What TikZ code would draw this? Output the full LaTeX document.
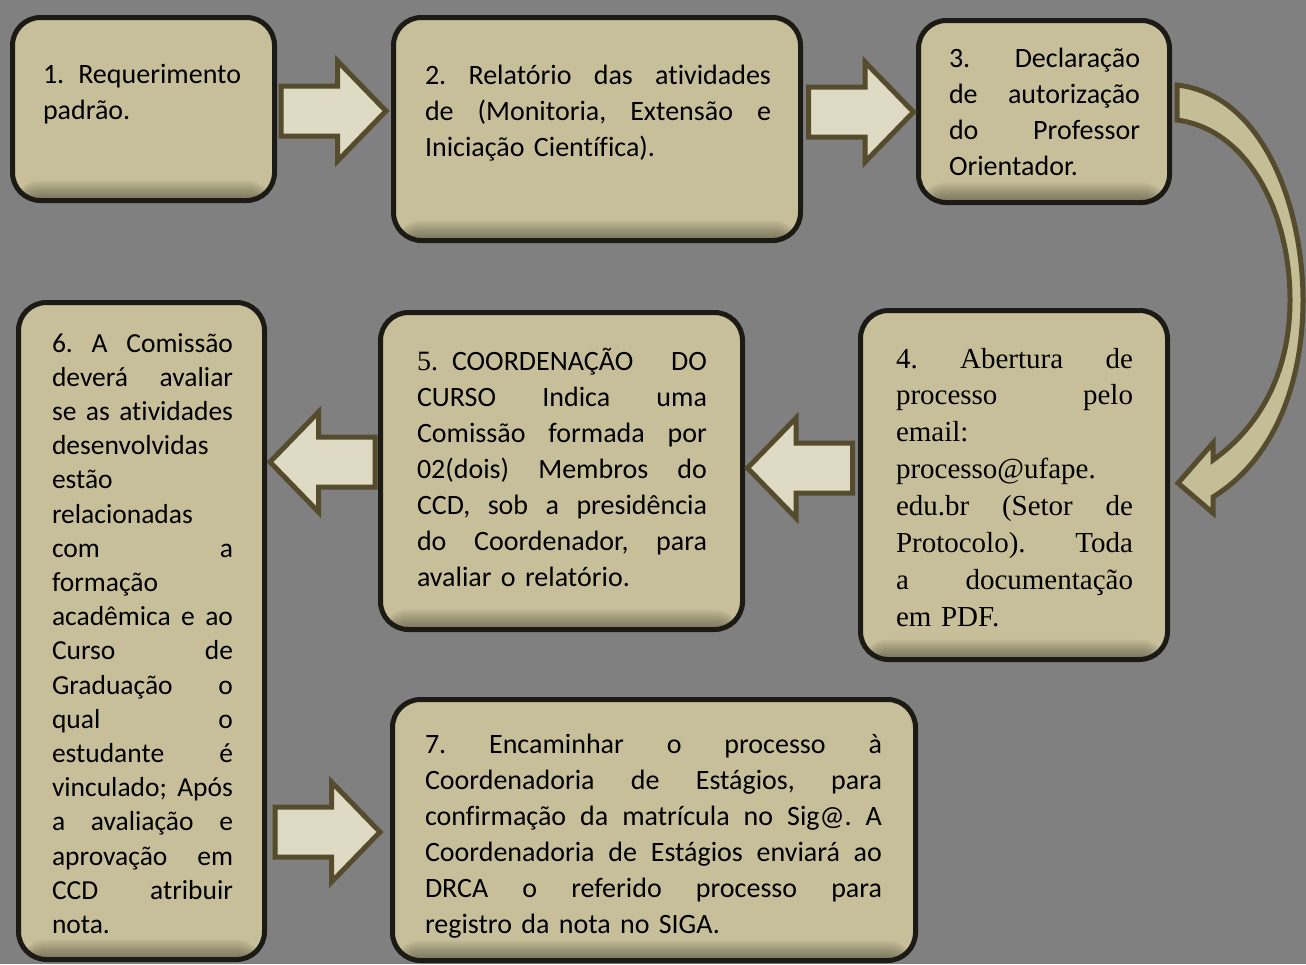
\documentclass[tikz,border=0pt]{standalone}
\usepackage{fontspec}
\setmainfont{Carlito}[Ligatures=NoCommon]
\newfontfamily\tms{Liberation Serif}
\definecolor{bg}{RGB}{128,128,128}
\definecolor{boxfill}{RGB}{199,191,153}
\definecolor{boxline}{RGB}{28,26,20}
\definecolor{arrfill}{RGB}{222,218,196}
\definecolor{arrline}{RGB}{85,75,45}
\definecolor{carrfill}{RGB}{196,190,150}
\newcommand\gp{\hspace{0.16em plus 1fill}}
\tikzset{
  stepbox/.style={draw=boxline, fill=boxfill, line width=5pt, rounded corners=28pt, inner sep=0pt,
    path picture={
      \foreach \k in {1,...,10}{
        \fill[black, opacity=0.045]
          ([yshift=\k*2pt]path picture bounding box.south west) rectangle (path picture bounding box.south east);
      }
    }},
  txt/.style={inner sep=0pt, outer sep=0pt, align=left, anchor=base west, font=\fontsize{28}{36}\selectfont, text=black},
  arr/.style={draw=arrline, fill=arrfill, line width=5pt, line join=miter},
  pics/barrow/.style={code={
    \draw[arr] (-52.5,-25) -- (4,-25) -- (4,-50) -- (52.5,0) -- (4,50) -- (4,25) -- (-52.5,25) -- cycle;
  }}
}
\begin{document}
\begin{tikzpicture}[x=1pt,y=-1pt]
\useasboundingbox (0,0) rectangle (1306,964);
\fill[bg] (0,0) rectangle (1306,964);

% boxes
\node[stepbox, minimum width=262pt, minimum height=183pt] (b1) at (143.5,109) {};
\node[stepbox, minimum width=407pt, minimum height=223pt] (b2) at (597,129) {};
\node[stepbox, minimum width=251pt, minimum height=182pt] (b3) at (1044,111.5) {};
\node[stepbox, minimum width=307pt, minimum height=349pt] (b4) at (1014,485) {};
\node[stepbox, minimum width=362pt, minimum height=317pt] (b5) at (561.5,471) {};
\node[stepbox, minimum width=246pt, minimum height=657pt] (b6) at (141.5,631) {};
\node[stepbox, minimum width=523pt, minimum height=261pt] (b7) at (654,830) {};

% texts
\node[txt, text width=210pt] (t1) at (43,83) {1. Requerimento\\padrão.};
\node[txt, text width=346pt] (t2) at (425,84) {2.\gp Relatório\gp das\gp atividades\\
de\gp (Monitoria,\gp Extensão\gp e\\
Iniciação Científica).};
\node[txt, text width=191pt] (t3) at (949,67) {3.\gp Declaração\\
de\gp autorização\\
do\gp Professor\\
Orientador.};
\node[txt, text width=237pt, font=\tms\fontsize{29}{36.9}\selectfont] (t4) at (896,368) {4.\gp Abertura\gp de\\
processo\gp pelo\\
email:\\
processo@ufape.\\
edu.br\gp (Setor\gp de\\
Protocolo).\gp Toda\\
a\gp documentação\\
em PDF.};
\node[txt, text width=290pt] (t5) at (417,370) {{\tms 5.} COORDENAÇÃO\gp DO\\
CURSO\gp Indica\gp uma\\
Comissão\gp formada\gp por\\
02(dois)\gp Membros\gp do\\
CCD,\gp sob\gp a\gp presidência\\
do\gp Coordenador,\gp para\\
avaliar o relatório.};
\node[txt, text width=181pt, font=\fontsize{27.5}{34.2}\selectfont] (t6) at (52,352) {6.\gp A\gp Comissão\\
deverá\gp avaliar\\
se\gp as\gp atividades\\
desenvolvidas\\
estão\\
relacionadas\\
com\gp a\\
formação\\
acadêmica\gp e\gp ao\\
Curso\gp de\\
Graduação\gp o\\
qual\gp o\\
estudante\gp é\\
vinculado;\gp Após\\
a\gp avaliação\gp e\\
aprovação\gp em\\
CCD\gp atribuir\\
nota.};
\node[txt, text width=457pt] (t7) at (425,753) {7.\gp Encaminhar\gp o\gp processo\gp à\\
Coordenadoria\gp de\gp Estágios,\gp para\\
confirmação\gp da\gp matrícula\gp no\gp Sig@.\gp A\\
Coordenadoria\gp de\gp Estágios\gp enviará\gp ao\\
DRCA\gp o\gp referido\gp processo\gp para\\
registro da nota no SIGA.};

% block arrows
\pic at (333.5,111) {barrow};
\pic at (861,112) {barrow};
\pic[xscale=-1] at (322.5,462) {barrow};
\pic[xscale=-1] at (800,468) {barrow};
\pic at (327.5,832) {barrow};

% curved arrow from box 3 to box 4
\draw[arr, fill=carrfill, line join=miter]
  (1177,85) .. controls (1265,95) and (1303,210) .. (1303,300)
  .. controls (1303,390) and (1270,462) .. (1213,497)
  -- (1213,513) -- (1178,483) -- (1213,443) -- (1213,460)
  .. controls (1262,425) and (1290,370) .. (1290,300)
  .. controls (1290,215) and (1250,130) .. (1177,120) -- cycle;
\end{tikzpicture}
\end{document}
